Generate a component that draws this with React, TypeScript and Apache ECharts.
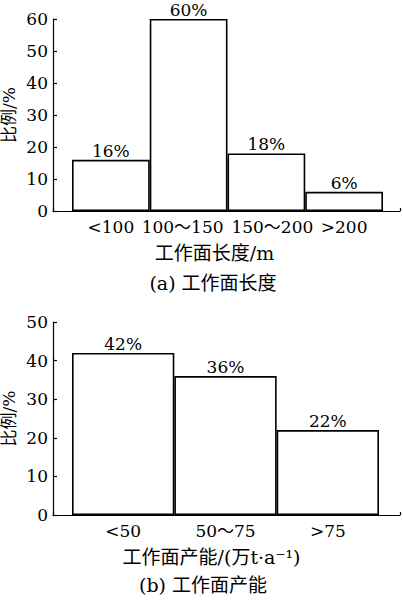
import React, { useEffect, useRef } from "react";
import * as echarts from "echarts";

const lengthCategories = ["<100", "100～150", "150～200", ">200"];
const lengthValues = [16, 60, 18, 6];
const capacityCategories = ["<50", "50～75", ">75"];
const capacityValues = [42, 36, 22];

const lengthAxisName = "工作面长度/m";
const capacityAxisName = "工作面产能/(万t·a⁻¹)";
const yAxisName = "比例/%";
const captionA = "(a) 工作面长度";
const captionB = "(b) 工作面产能";

const FONT = "'DejaVu Serif', 'Noto Sans CJK SC', serif";

export default function App() {
  const ref = useRef<HTMLDivElement>(null);
  useEffect(() => {
    if (!ref.current) return;
    const chart = echarts.init(ref.current, undefined, { renderer: "svg" });
    const txt = { color: "#000", fontFamily: FONT, fontSize: 17 };
    const yAxisBase = (gridIndex: number, max: number) => ({
      type: "value",
      gridIndex,
      min: 0,
      max,
      interval: 10,
      offset: 19,
      name: yAxisName,
      nameLocation: "middle",
      nameGap: 36,
      nameMoveOverlap: false,
      nameTextStyle: { ...txt, fontSize: 17 },
      axisLine: { show: true, lineStyle: { color: "#000", width: 1.2 } },
      axisTick: { show: true, inside: true, length: 4, lineStyle: { color: "#000", width: 1.2 } },
      axisLabel: { ...txt, margin: 5 },
      splitLine: { show: false },
    });
    const hiddenY = (gridIndex: number) => ({
      type: "value",
      gridIndex,
      min: 0,
      max: 1,
      show: false,
    });
    const catX = (gridIndex: number, data: string[], name: string, shift: number, spread: boolean) => ({
      type: "category",
      gridIndex,
      data,
      axisLine: { show: false },
      axisTick: { show: false },
      axisLabel: {
        ...txt,
        margin: 7,
        interval: 0,
        formatter: spread
          ? (v: string, i: number) => (i === 1 ? `{l|${v}}` : i === 2 ? `{r|${v}}` : v)
          : undefined,
        rich: {
          l: { ...txt, padding: [0, 12, 0, 0] },
          r: { ...txt, padding: [0, 0, 0, 12] },
        },
      },
      name,
      nameLocation: "middle",
      nameGap: 32,
      nameMoveOverlap: false,
      nameTextStyle: { ...txt, fontSize: 19, padding: [0, shift, 0, 0] },
    });
    const lineX = (gridIndex: number) => ({
      type: "value",
      gridIndex,
      min: 0,
      max: 1,
      interval: 1,
      axisLine: { show: true, lineStyle: { color: "#000", width: 1.2 } },
      axisTick: { show: true, inside: true, length: 3, lineStyle: { color: "#000", width: 1.2 } },
      axisLabel: { show: false },
      splitLine: { show: false },
    });
    const barSeries = (idx: number, data: number[]) => ({
      type: "bar",
      xAxisIndex: idx,
      yAxisIndex: idx,
      data,
      barWidth: "100%",
      barCategoryGap: "0%",
      itemStyle: { color: "#fff", borderColor: "#000", borderWidth: 1.6 },
      label: {
        show: true,
        position: "top",
        distance: 2,
        lineHeight: 14,
        formatter: "{c}%",
        ...txt,
      },
    });
    const g = { containLabel: false, outerBoundsMode: "none" };
    chart.setOption({
      animation: false,
      backgroundColor: "#fff",
      grid: [
        { ...g, left: 72, right: 20, top: 19, height: 192 },
        { ...g, left: 53, right: 3, top: 19, height: 192 },
        { ...g, left: 72, right: 24, top: 322, height: 193 },
        { ...g, left: 53, right: 3, top: 322, height: 193 },
      ],
      xAxis: [
        catX(0, lengthCategories, lengthAxisName, 26, true),
        lineX(1),
        catX(2, capacityCategories, capacityAxisName, 28, false),
        lineX(3),
      ],
      yAxis: [yAxisBase(0, 60), hiddenY(1), yAxisBase(2, 50), hiddenY(3)],
      series: [barSeries(0, lengthValues), barSeries(2, capacityValues)],
      graphic: [
        {
          type: "text",
          x: 213,
          y: 283,
          style: { text: captionA, font: `19px ${FONT}`, fill: "#000", textAlign: "center", textVerticalAlign: "middle" },
        },
        {
          type: "text",
          x: 203,
          y: 585,
          style: { text: captionB, font: `19px ${FONT}`, fill: "#000", textAlign: "center", textVerticalAlign: "middle" },
        },
      ],
    });
    return () => chart.dispose();
  }, []);
  return (
    <div
      ref={ref}
      style={{ position: "fixed", left: 0, top: 0, width: 403, height: 600, background: "#fff" }}
    />
  );
}
